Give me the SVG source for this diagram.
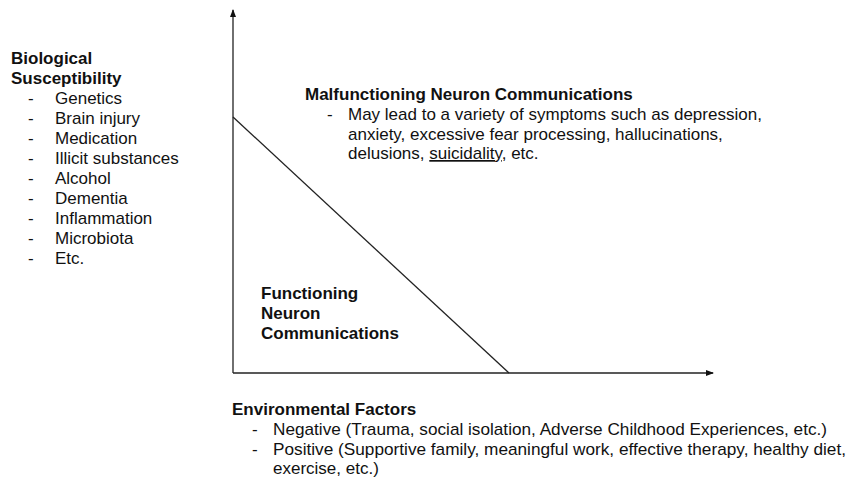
<svg xmlns="http://www.w3.org/2000/svg" width="850" height="480" viewBox="0 0 850 480">
<defs>
<marker id="arr" markerWidth="8" markerHeight="6" refX="7" refY="3" orient="auto" markerUnits="userSpaceOnUse">
<path d="M0,0 L8,3 L0,6 z" fill="#111"/>
</marker>
<style>
text{font-family:"Liberation Sans",Arial,sans-serif;fill:#111;}
.h{font-weight:bold;font-size:17px;}
.b{font-size:17px;}
.ax{stroke:#222;stroke-width:1.3;fill:none;}
</style>
</defs>
<rect width="850" height="480" fill="#fff"/>
<g id="connectors">
<line class="ax" x1="233" y1="373" x2="233" y2="10" marker-end="url(#arr)"/>
<line class="ax" x1="233" y1="373" x2="713" y2="373" marker-end="url(#arr)"/>
<line class="ax" x1="233" y1="117" x2="509" y2="373"/>
</g>
<g id="biological">
<text class="h" x="11" y="64">Biological</text>
<text class="h" x="11" y="84">Susceptibility</text>
<text class="b" x="28" y="104">-</text><text class="b" x="55" y="104">Genetics</text>
<text class="b" x="28" y="124">-</text><text class="b" x="55" y="124">Brain injury</text>
<text class="b" x="28" y="144">-</text><text class="b" x="55" y="144">Medication</text>
<text class="b" x="28" y="164">-</text><text class="b" x="55" y="164">Illicit substances</text>
<text class="b" x="28" y="184">-</text><text class="b" x="55" y="184">Alcohol</text>
<text class="b" x="28" y="204">-</text><text class="b" x="55" y="204">Dementia</text>
<text class="b" x="28" y="224">-</text><text class="b" x="55" y="224">Inflammation</text>
<text class="b" x="28" y="244">-</text><text class="b" x="55" y="244">Microbiota</text>
<text class="b" x="28" y="264">-</text><text class="b" x="55" y="264">Etc.</text>
</g>
<g id="malfunctioning">
<text class="h" x="305" y="100">Malfunctioning Neuron Communications</text>
<text class="b" x="327" y="120">-</text>
<text class="b" x="348" y="120">May lead to a variety of symptoms such as depression,</text>
<text class="b" x="348" y="140">anxiety, excessive fear processing, hallucinations,</text>
<text class="b" x="348" y="159">delusions, <tspan text-decoration="underline">suicidality</tspan>, etc.</text>
</g>
<g id="functioning">
<text class="h" x="261" y="299">Functioning</text>
<text class="h" x="261" y="319">Neuron</text>
<text class="h" x="261" y="339">Communications</text>
</g>
<g id="environmental">
<text class="h" x="232" y="415">Environmental Factors</text>
<text class="b" x="252" y="435">-</text>
<text class="b" x="273" y="435" textLength="554" lengthAdjust="spacingAndGlyphs">Negative (Trauma, social isolation, Adverse Childhood Experiences, etc.)</text>
<text class="b" x="252" y="455">-</text>
<text class="b" x="273" y="455" textLength="573" lengthAdjust="spacingAndGlyphs">Positive (Supportive family, meaningful work, effective therapy, healthy diet,</text>
<text class="b" x="273" y="474">exercise, etc.)</text>
</g>
</svg>
